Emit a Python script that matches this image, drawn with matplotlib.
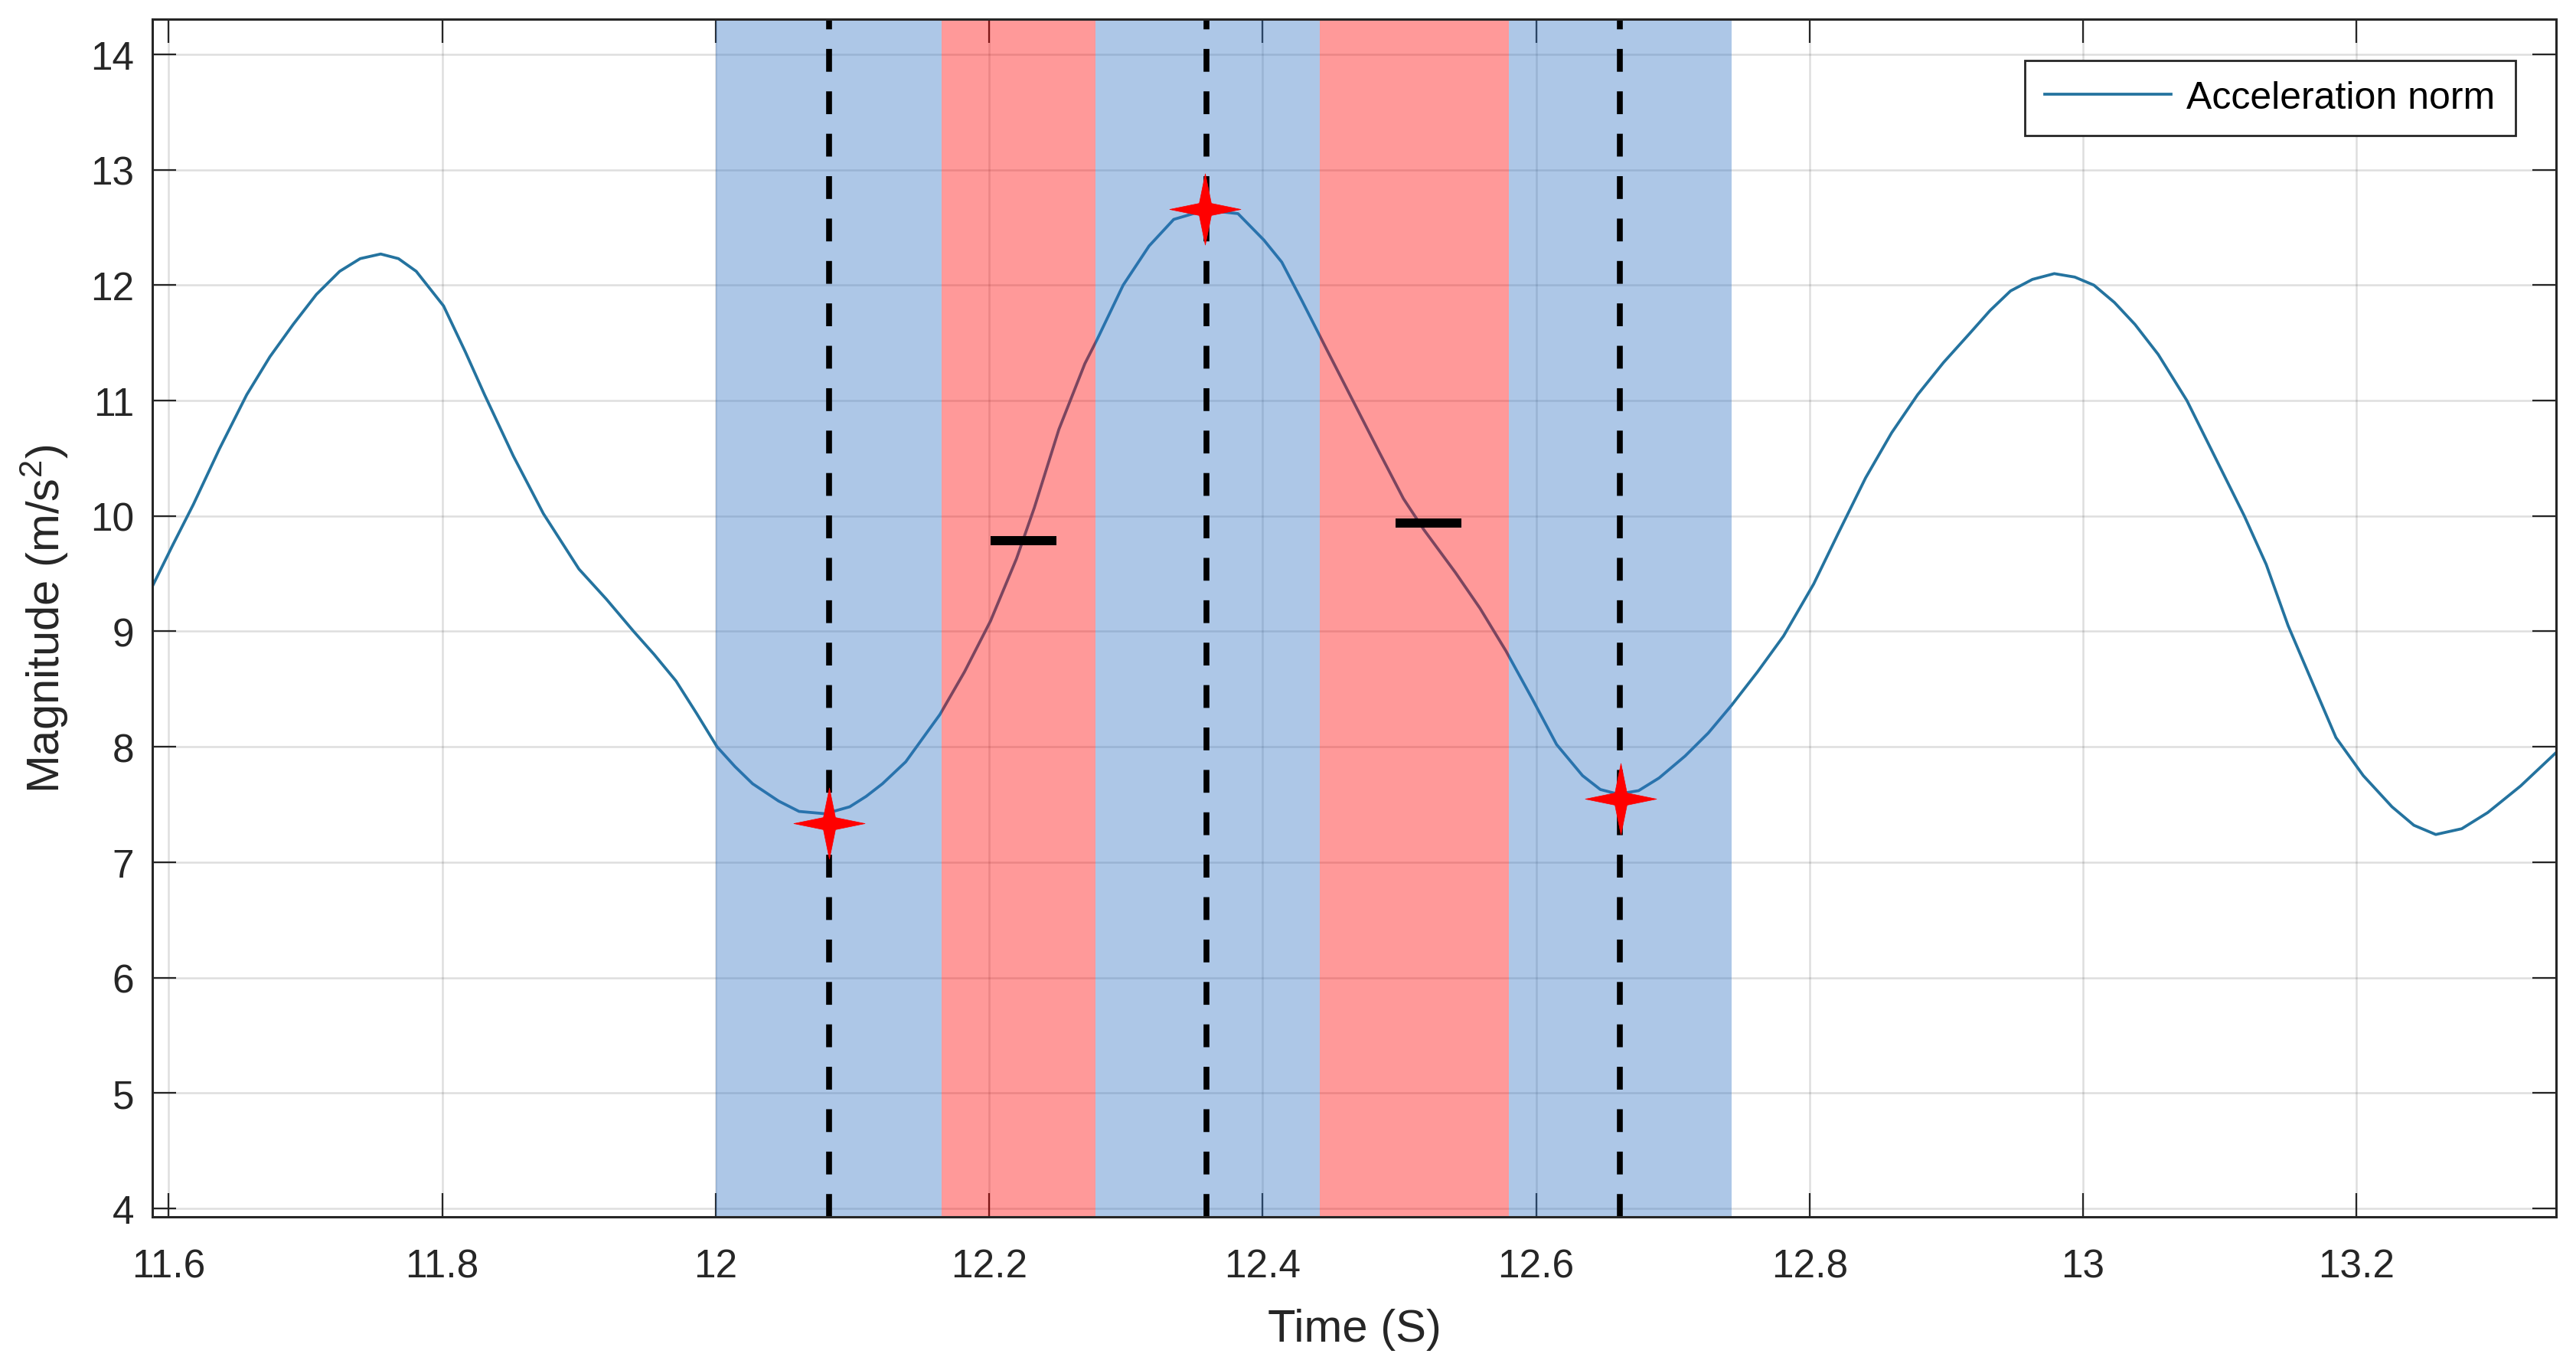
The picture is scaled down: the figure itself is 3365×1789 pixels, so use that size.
import numpy as np
import matplotlib
matplotlib.use("Agg")
import matplotlib.pyplot as plt
from matplotlib.path import Path

plt.rcParams['font.family'] = ['Liberation Sans', 'DejaVu Sans']
plt.rcParams['mathtext.fontset'] = 'custom'
plt.rcParams['mathtext.rm'] = 'Liberation Sans'
plt.rcParams['mathtext.it'] = 'Liberation Sans:italic'

# ---------------- data ----------------
time_s = [11.588, 11.603, 11.618, 11.637, 11.657, 11.674, 11.691, 11.708, 11.725, 11.740,
          11.755, 11.768, 11.781, 11.801, 11.817, 11.831, 11.852, 11.874, 11.900, 11.920,
          11.940, 11.955, 11.971, 11.986, 12.001, 12.014, 12.027, 12.046, 12.061, 12.080,
          12.098, 12.110, 12.122, 12.139, 12.164, 12.182, 12.201, 12.220, 12.233, 12.251,
          12.270, 12.279, 12.298, 12.317, 12.335, 12.358, 12.382, 12.401, 12.414, 12.429,
          12.447, 12.466, 12.485, 12.503, 12.518, 12.541, 12.559, 12.578, 12.597, 12.615,
          12.634, 12.647, 12.660, 12.675, 12.690, 12.709, 12.726, 12.743, 12.762, 12.781,
          12.803, 12.821, 12.841, 12.860, 12.879, 12.898, 12.917, 12.932, 12.947, 12.963,
          12.979, 12.994, 13.008, 13.023, 13.038, 13.055, 13.076, 13.097, 13.118, 13.134,
          13.150, 13.168, 13.185, 13.205, 13.226, 13.242, 13.258, 13.277, 13.296, 13.320,
          13.346]
accel_norm = [9.39, 9.75, 10.10, 10.58, 11.05, 11.38, 11.66, 11.92, 12.12, 12.23,
              12.27, 12.23, 12.12, 11.82, 11.42, 11.05, 10.52, 10.02, 9.54, 9.28,
              9.00, 8.80, 8.57, 8.29, 8.00, 7.83, 7.68, 7.53, 7.44, 7.42,
              7.48, 7.57, 7.68, 7.87, 8.28, 8.65, 9.09, 9.63, 10.07, 10.75,
              11.32, 11.53, 12.00, 12.34, 12.57, 12.65, 12.62, 12.39, 12.20, 11.86,
              11.44, 11.00, 10.56, 10.15, 9.88, 9.51, 9.20, 8.83, 8.42, 8.02,
              7.75, 7.63, 7.59, 7.62, 7.73, 7.92, 8.12, 8.36, 8.65, 8.96,
              9.41, 9.85, 10.33, 10.72, 11.05, 11.33, 11.58, 11.78, 11.95, 12.05,
              12.10, 12.07, 12.00, 11.85, 11.66, 11.40, 11.00, 10.50, 10.00, 9.58,
              9.05, 8.55, 8.08, 7.75, 7.48, 7.32, 7.24, 7.29, 7.43, 7.66,
              7.95]

blue_spans = [(12.000, 12.165), (12.278, 12.442), (12.580, 12.743)]
red_spans = [(12.165, 12.278), (12.442, 12.580)]
event_lines = [12.083, 12.359, 12.661]
star_t = [12.083, 12.358, 12.662]
star_v = [7.34, 12.66, 7.55]
mean_t = [12.225, 12.5215]
mean_v = [9.785, 9.94]

xticks = [11.6, 11.8, 12.0, 12.2, 12.4, 12.6, 12.8, 13.0, 13.2]
xtick_labels = ['11.6', '11.8', '12', '12.2', '12.4', '12.6', '12.8', '13', '13.2']
yticks = [4, 5, 6, 7, 8, 9, 10, 11, 12, 13, 14]

# ---------------- figure ----------------
fig = plt.figure(figsize=(33.65, 17.9), dpi=100)
ax = fig.add_axes([0.05914, 0.11173, 0.93313, 0.87374])

txt_col = (0.15, 0.15, 0.15)
line_col = '#24739F'

ax.plot(time_s, accel_norm, color=line_col, lw=2.7, zorder=2, label='Acceleration norm')

for a, b in blue_spans:
    ax.axvspan(a, b, facecolor=(50/255, 115/255, 195/255), alpha=0.4, lw=0, zorder=2.2)
for a, b in red_spans:
    ax.axvspan(a, b, facecolor=(1, 0, 0), alpha=0.4, lw=0, zorder=2.2)

for t in event_lines:
    ax.axvline(t, color='black', lw=5.5, linestyle=(0, (3.9, 3.35)), zorder=4)

# four-point star marker (straight-edged, thin arms)
ang = np.arange(8) * np.pi / 4
rad = np.where(np.arange(8) % 2 == 0, 1.0, 0.24)
verts = np.column_stack([rad * np.cos(ang), rad * np.sin(ang)])
verts = np.vstack([verts, verts[:1]])
star_path = Path(verts, closed=True)
ax.plot(star_t, star_v, linestyle='none', marker=star_path, markersize=67,
        markerfacecolor='red', markeredgecolor='red', markeredgewidth=0.5, zorder=5)

ax.plot(mean_t, mean_v, linestyle='none', marker='_', markersize=62,
        markeredgewidth=8.6, color='black', zorder=5)

ax.set_xlim(11.588, 13.346)
ax.set_ylim(3.927, 14.305)
ax.set_xticks(xticks)
ax.set_xticklabels(xtick_labels)
ax.set_yticks(yticks)

ax.grid(True, color=(0.15, 0.15, 0.15), alpha=0.15, lw=1.8)
ax.set_axisbelow(True)

ax.tick_params(axis='both', direction='in', length=22, width=1.6, colors=txt_col,
               labelsize=37, top=True, right=True)
ax.tick_params(axis='x', pad=29)
ax.tick_params(axis='y', pad=17)
for sp in ax.spines.values():
    sp.set_linewidth(2.2)
    sp.set_color(txt_col)
    sp.set_zorder(6)

ax.set_xlabel('Time (S)', fontsize=43, color=txt_col)
ax.xaxis.set_label_coords(0.5, -0.076)
ax.xaxis.label.set_va('top')
ax.set_ylabel(r'Magnitude (m/s$^2$)', fontsize=43, color=txt_col)
ax.yaxis.set_label_coords(-0.034, 0.5)

leg = ax.legend(loc='upper right', bbox_to_anchor=(0.983, 0.9655), borderaxespad=0,
                fontsize=36, frameon=True, fancybox=False, shadow=False,
                handlelength=3.3, handletextpad=0.4, borderpad=0.52)
leg.get_frame().set_edgecolor(txt_col)
leg.get_frame().set_linewidth(2.0)
leg.get_frame().set_alpha(1)
leg.set_zorder(10)
for txt in leg.get_texts():
    txt.set_color('black')

fig.savefig('out.png', dpi=100, facecolor='white')
